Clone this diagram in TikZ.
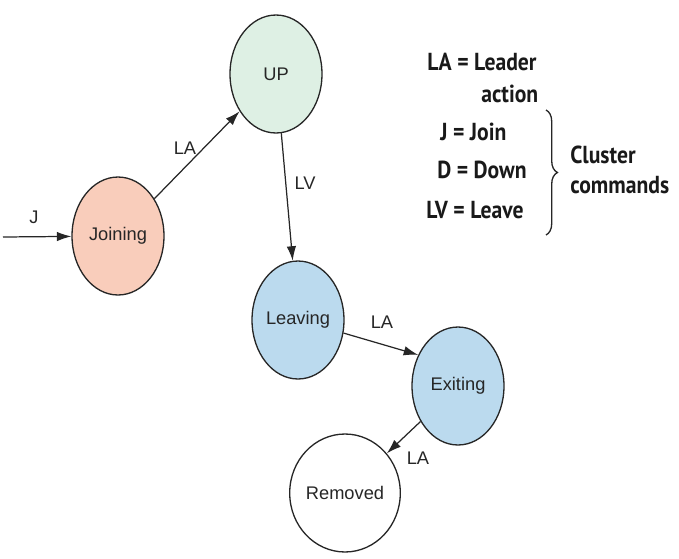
\documentclass[tikz,border=0pt]{standalone}
\usepackage{fontspec}
\setmainfont{Liberation Sans}
\newfontfamily\keyfont[FakeStretch=0.88]{PT Sans}
\usetikzlibrary{shapes.geometric,arrows.meta,decorations.pathreplacing}
\definecolor{joinfill}{RGB}{249,205,187}
\definecolor{upfill}{RGB}{222,240,228}
\definecolor{leavefill}{RGB}{187,218,238}
\tikzset{
  state/.style={ellipse, draw=black!85, line width=0.75pt, minimum width=1.84cm, minimum height=2.36cm, inner sep=0pt, text=black!85, font=\fontsize{10.4}{12}\selectfont},
  trans/.style={draw=black!85, line width=0.7pt, -{Latex[length=0.29cm,width=0.19cm]}},
  lbl/.style={inner sep=0pt, text=black!85, font=\fontsize{10.4}{12}\selectfont},
  keytext/.style={inner sep=0pt, anchor=base west, text=black!90, font=\keyfont\bfseries\fontsize{14}{16}\selectfont}
}
\begin{document}
\begin{tikzpicture}[x=0.02cm, y=-0.02cm]
  \useasboundingbox (0,0) rectangle (679,558);
  \node [state, fill=joinfill] (joining) at (118,236) {Joining};
  \node [state, fill=upfill] (up) at (276,74) {UP};
  \node [state, fill=leavefill] (leaving) at (298,320) {Leaving};
  \node [state, fill=leavefill] (exiting) at (458,386) {Exiting};
  \node [state] (removed) at (345,493) {Removed};
  \coordinate (entry) at (3,237);
  \draw [trans] (entry) -- (joining);
  \draw [trans] (joining) -- (up);
  \draw [trans] (up) -- (leaving);
  \draw [trans] (leaving.-16) -- (exiting.142);
  \draw [trans] (exiting) -- (removed);
  \node [lbl] (lj) at (34,217) {J};
  \node [lbl] (lla) at (185,148) {LA};
  \node [lbl] (llv) at (305,183) {LV};
  \node [lbl] (llb) at (382,322) {LA};
  \node [lbl] (llc) at (418,458) {LA};
  % key
  \node [keytext] (keyla) at (427,70) {LA = Leader};
  \node [keytext] (keyact) at (481,102) {action};
  \node [keytext] (keyj) at (440,140) {J = Join};
  \node [keytext] (keyd) at (437,178) {D = Down};
  \node [keytext] (keylv) at (426,218) {LV = Leave};
  \draw [decorate, decoration={brace, amplitude=6.5pt}, line width=0.75pt, black!85] (546,110) -- (546,235);
  \node [keytext] (clu) at (570,163) {Cluster};
  \node [keytext] (com) at (570,193) {commands};
\end{tikzpicture}
\end{document}
